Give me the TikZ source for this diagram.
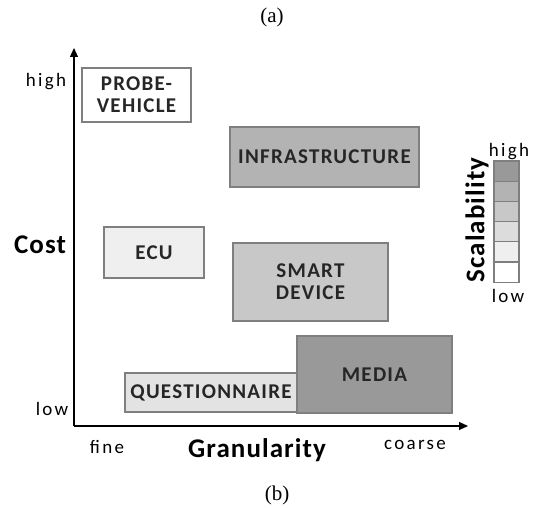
\documentclass[tikz,border=0pt]{standalone}
\usepackage{fontspec}
\setmainfont{Carlito}
\newfontfamily\serifcap{Liberation Serif}
\newfontfamily\labfont[LetterSpace=12]{Carlito}
\newfontfamily\boxfont[LetterSpace=6]{Carlito}
\newfontfamily\bigfont[LetterSpace=4]{Carlito}
\usetikzlibrary{arrows.meta}
\definecolor{edgegray}{HTML}{7F7F7F}
\definecolor{txtgray}{HTML}{262626}
\definecolor{sA}{HTML}{999999}
\definecolor{sB}{HTML}{B3B3B3}
\definecolor{sC}{HTML}{C8C8C8}
\definecolor{sD}{HTML}{DCDCDC}
\definecolor{sE}{HTML}{EFEFEF}
\definecolor{sF}{HTML}{FFFFFF}
\tikzset{
  box/.style={draw=edgegray, line width=1.5pt, inner sep=0pt, align=center,
    text=txtgray, font=\boxfont\fontsize{21}{22}\selectfont\bfseries},
  axisline/.style={line width=1.1pt, -{Triangle[length=9pt,width=8pt]}},
  lab/.style={inner sep=0pt, font=\labfont\fontsize{19}{21}\selectfont},
  big/.style={inner sep=0pt, font=\bigfont\fontsize{27}{29}\selectfont\bfseries},
  captxt/.style={inner sep=0pt, font=\serifcap\fontsize{21}{23}\selectfont},
  cell/.style={draw=edgegray, line width=1.2pt, minimum width=25pt, minimum height=20.2pt, inner sep=0pt}
}
\begin{document}
\begin{tikzpicture}[x=1pt,y=-1pt]
\useasboundingbox (0,0) rectangle (539,508);
\node[captxt] (ta) at (272,17) {(a)};
\node[captxt] (tb) at (277,495) {(b)};
% axes
\coordinate (o) at (74,426);
\coordinate (ytip) at (74,48);
\coordinate (xtip) at (468,426);
\draw[axisline] (o) -- (ytip);
\draw[axisline] (o) -- (xtip);
\node[lab] (hi) at (46,82) {high};
\node[lab] (lo) at (52,409) {low};
\node[lab] (fine) at (107,447) {fine};
\node[lab] (coarse) at (415,445) {coarse};
\node[big] (cost) at (40,245) {Cost};
\node[big] (gran) at (257,450) {Granularity};
% boxes
\node[box, fill=white, minimum width=109pt, minimum height=54pt] (probe) at (136.5,95) {PROBE-\\VEHICLE};
\node[box, fill=sB, minimum width=189pt, minimum height=60pt] (infra) at (324.5,157) {INFRASTRUCTURE};
\node[box, fill=sE, minimum width=100pt, minimum height=51pt] (ecu) at (154,252.5) {ECU};
\node[box, fill=sC, minimum width=155pt, minimum height=78pt] (smart) at (310.5,282) {SMART\\DEVICE};
\node[box, fill=sD!80!white, minimum width=172pt, minimum height=39pt] (quest) at (211,392.5) {\raisebox{-5pt}{QUESTIONNAIRE}};
\node[box, fill=sA, minimum width=155pt, minimum height=77pt] (media) at (374.5,374.5) {MEDIA};
% scalability scale
\foreach \c [count=\i] in {sA,sB,sC,sD,sE,sF}{
  \node[cell, fill=\c] (c\i) at (506.5,{161+20.2*(\i-0.5)}) {};
}
\node[lab, anchor=base] (shi) at (509,157) {high};
\node[lab] (slo) at (508,296) {low};
\node[big, rotate=90] (scal) at (477,220) {Scalability};
\end{tikzpicture}
\end{document}
